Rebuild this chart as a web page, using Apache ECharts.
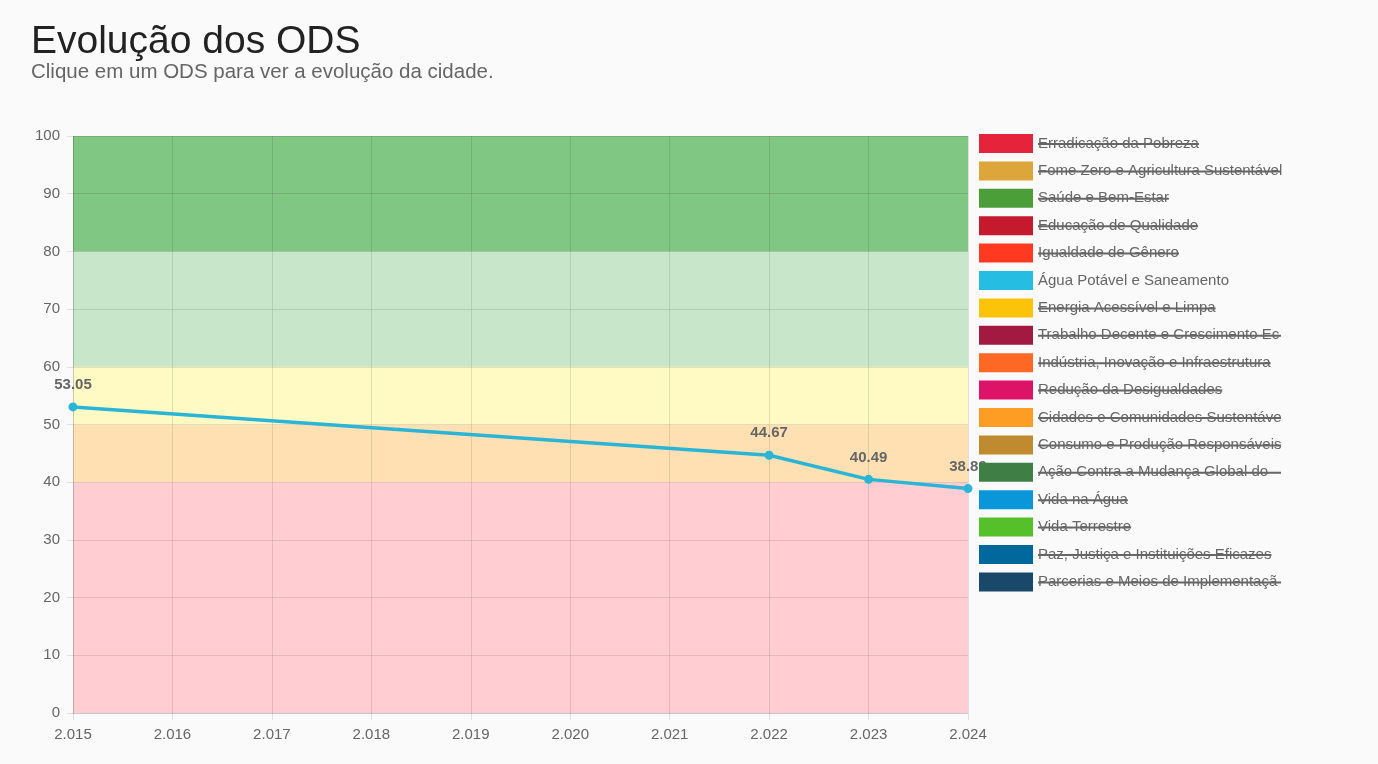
<!DOCTYPE html>
<html>
<head>
<meta charset="utf-8">
<script src="https://cdn.jsdelivr.net/npm/echarts@6/dist/echarts.min.js"></script>
<style>
html,body{margin:0;padding:0;background:#fafafa;}
#chart{width:1378px;height:764px;}
</style>
</head>
<body>
<div id="chart"></div>
<script>
// ---- data ----
var odsNames = [
  "Erradicação da Pobreza",
  "Fome Zero e Agricultura Sustentável",
  "Saúde e Bem-Estar",
  "Educação de Qualidade",
  "Igualdade de Gênero",
  "Água Potável e Saneamento",
  "Energia Acessível e Limpa",
  "Trabalho Decente e Crescimento Econômico",
  "Indústria, Inovação e Infraestrutura",
  "Redução da Desigualdades",
  "Cidades e Comunidades Sustentáveis",
  "Consumo e Produção Responsáveis",
  "Ação Contra a Mudança Global do Clima",
  "Vida na Água",
  "Vida Terrestre",
  "Paz, Justiça e Instituições Eficazes",
  "Parcerias e Meios de Implementação"
];
var odsColors = ["#E5243B","#DDA63A","#4C9F38","#C5192D","#FF3A21","#26BDE2","#FCC30B","#A21942","#FD6925","#DD1367","#FD9D24","#BF8B2E","#3F7E44","#0A97D9","#56C02B","#00689D","#19486A"];
var odsVisible = [false,false,false,false,false,true,false,false,false,false,false,false,false,false,false,false,false];
var years = [2015, 2022, 2023, 2024];
var aguaValues = [53.05, 44.67, 40.49, 38.89];
var bandLimits = [[0,40],[40,50],[50,60],[60,80],[80,100]];
var bandColors = ["#FFCDD2","#FFE0B2","#FFF9C4","#C8E6C9","#81C784"];
var titleText = "Evolução dos ODS";
var subtitleText = "Clique em um ODS para ver a evolução da cidade.";

// ---- chart ----
var FONT = "'Liberation Sans', Arial, Helvetica, sans-serif";
var LINE_COLOR = '#2ab5d6';
var chart = echarts.init(document.getElementById('chart'));

var series = [];
series.push({
  name: '__faixas__',
  type: 'line',
  data: [],
  z: 1,
  silent: true,
  markArea: {
    silent: true,
    itemStyle: {},
    data: bandLimits.map(function (b, i) {
      return [{ yAxis: b[0], itemStyle: { color: bandColors[i] } }, { yAxis: b[1] }];
    })
  }
});
odsNames.forEach(function (n, i) {
  var isAgua = i === 5;
  var c = isAgua ? LINE_COLOR : odsColors[i];
  series.push({
    name: n,
    type: 'line',
    z: 3,
    color: odsColors[i],
    data: isAgua ? years.map(function (y, k) { return [y, aguaValues[k]]; }) : [],
    symbol: 'circle',
    symbolSize: 9,
    lineStyle: { width: 3.5, color: c },
    itemStyle: { color: c },
    label: {
      show: true,
      position: 'top',
      distance: 10,
      color: '#666',
      fontWeight: 'bold',
      fontSize: 15,
      fontFamily: FONT,
      formatter: function (p) { return p.value[1].toFixed(2); }
    }
  });
});

var LEG_LEFT = 979, LEG_TOP = 134, ITEM_H = 19, ITEM_GAP = 8.4, ITEM_W = 54, TEXT_W = 243;
var mctx = document.createElement('canvas').getContext('2d');
mctx.font = "15px " + FONT;
var strikes = [];
odsNames.forEach(function (n, i) {
  if (odsVisible[i]) return;
  var w = Math.min(mctx.measureText(n).width, TEXT_W);
  var y = LEG_TOP + i * (ITEM_H + ITEM_GAP) + ITEM_H / 2 + 0.5;
  var x0 = LEG_LEFT + ITEM_W + 5;
  strikes.push({
    type: 'line', z: 10, silent: true,
    shape: { x1: x0, y1: y, x2: x0 + w, y2: y },
    style: { stroke: '#666', lineWidth: 2 }
  });
});

function fmtThousands(v) {
  return String(v).replace(/\B(?=(\d{3})+(?!\d))/g, '.');
}

var gridColor = 'rgba(0,0,0,0.1)';
chart.setOption({
  backgroundColor: '#fafafa',
  animation: false,
  title: [
    { text: titleText, left: 31, top: 23, padding: 0,
      textStyle: { fontSize: 39, fontWeight: 'normal', color: '#222', fontFamily: FONT } },
    { text: subtitleText, left: 31, top: 62, padding: 0,
      textStyle: { fontSize: 20.5, fontWeight: 'normal', color: '#666', fontFamily: FONT } }
  ],
  legend: {
    orient: 'vertical',
    left: LEG_LEFT,
    top: LEG_TOP,
    padding: 0,
    itemWidth: ITEM_W,
    itemHeight: ITEM_H,
    itemGap: ITEM_GAP,
    icon: 'rect',
    data: odsNames.map(function (n, i) { return { name: n, icon: 'rect', itemStyle: { color: odsColors[i] } }; }),
    textStyle: { fontSize: 15, color: '#666', fontFamily: FONT, width: 247, overflow: 'truncate', ellipsis: '' }
  },
  grid: { left: 73, right: 410, top: 136, bottom: 51, containLabel: false },
  xAxis: {
    type: 'value',
    min: 2015, max: 2024, interval: 1,
    z: 1.5,
    axisLine: { show: true, lineStyle: { color: gridColor } },
    axisTick: { show: true, length: 7, lineStyle: { color: gridColor } },
    splitLine: { show: true, lineStyle: { color: gridColor } },
    axisLabel: { color: '#666', fontSize: 15, fontFamily: FONT, margin: 14, formatter: fmtThousands }
  },
  yAxis: {
    type: 'value',
    min: 0, max: 100, interval: 10,
    z: 1.5,
    axisLine: { show: true, lineStyle: { color: gridColor } },
    axisTick: { show: true, length: 6, lineStyle: { color: gridColor } },
    splitLine: { show: true, lineStyle: { color: gridColor } },
    axisLabel: { color: '#666', fontSize: 15, fontFamily: FONT, margin: 13 }
  },
  graphic: strikes,
  series: series
});
</script>
</body>
</html>
